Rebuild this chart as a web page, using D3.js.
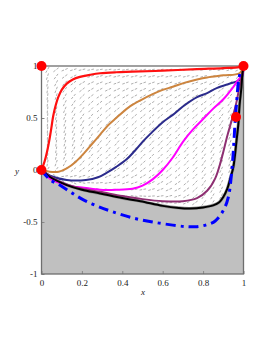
<!DOCTYPE html>
<html>
<head>
<meta charset="utf-8">
<script src="https://cdn.jsdelivr.net/npm/d3@7"></script>
<style>
  body { margin: 0; background: #fff; }
  svg text { font-family: "Liberation Serif", "DejaVu Serif", serif; font-size: 9px; fill: #222; }
</style>
</head>
<body>
<div class="phase-plot"></div>
<script>
// trajectories (x, y)
const redPath = [[0,0],[0.015,0.08],[0.028,0.18],[0.04,0.3],[0.05,0.42],[0.058,0.52],[0.07,0.62],[0.083,0.7],[0.1,0.77],[0.125,0.83],[0.155,0.87],[0.19,0.895],[0.24,0.915],[0.29,0.93],[0.37,0.94],[0.45,0.945],[0.6,0.955],[0.77,0.97],[0.9,0.98],[0.98,0.99],[1,1]];
const brownPath = [[0,0],[0.04,-0.016],[0.085,-0.016],[0.125,0.016],[0.17,0.08],[0.21,0.16],[0.25,0.25],[0.29,0.34],[0.33,0.43],[0.37,0.5],[0.43,0.6],[0.49,0.67],[0.55,0.73],[0.6,0.77],[0.65,0.8],[0.71,0.84],[0.77,0.87],[0.82,0.89],[0.9,0.91],[0.98,0.93],[1,1]];
const navyPath = [[0,0],[0.05,-0.06],[0.125,-0.096],[0.22,-0.096],[0.28,-0.07],[0.32,-0.03],[0.37,0.03],[0.42,0.1],[0.46,0.18],[0.5,0.27],[0.54,0.35],[0.6,0.46],[0.65,0.53],[0.7,0.61],[0.77,0.7],[0.82,0.74],[0.87,0.79],[0.93,0.83],[0.97,0.855],[0.99,0.88],[1,1]];
const magentaPath = [[0,0],[0.04,-0.08],[0.1,-0.13],[0.16,-0.16],[0.21,-0.17],[0.29,-0.19],[0.37,-0.19],[0.45,-0.18],[0.5,-0.15],[0.55,-0.09],[0.6,0.0],[0.65,0.12],[0.7,0.27],[0.75,0.39],[0.8,0.49],[0.85,0.59],[0.9,0.68],[0.95,0.8],[0.975,0.87],[0.995,0.92],[1,1]];
const purplePath = [[0,0],[0.05,-0.07],[0.125,-0.14],[0.2,-0.18],[0.29,-0.21],[0.4,-0.25],[0.5,-0.28],[0.6,-0.3],[0.7,-0.3],[0.77,-0.27],[0.82,-0.2],[0.86,-0.08],[0.89,0.1],[0.92,0.33],[0.945,0.5],[0.965,0.65],[0.98,0.8],[0.995,0.93],[1,1]];
const blackPath = [[0,0],[0.04,-0.065],[0.125,-0.145],[0.2,-0.19],[0.29,-0.225],[0.4,-0.27],[0.49,-0.3],[0.6,-0.345],[0.68,-0.365],[0.735,-0.37],[0.8,-0.36],[0.85,-0.34],[0.88,-0.31],[0.9,-0.26],[0.92,-0.18],[0.935,-0.08],[0.95,0.03],[0.966,0.29],[0.975,0.45],[0.98,0.61],[0.99,0.8],[0.995,0.93],[1,1]];
const bluePath = [[0,0],[0.04,-0.09],[0.09,-0.145],[0.15,-0.22],[0.21,-0.29],[0.28,-0.35],[0.35,-0.4],[0.45,-0.46],[0.55,-0.5],[0.65,-0.53],[0.72,-0.545],[0.77,-0.545],[0.82,-0.525],[0.86,-0.49],[0.9,-0.39],[0.925,-0.26],[0.94,-0.05],[0.95,0.19],[0.958,0.45],[0.966,0.65],[0.975,0.85],[0.985,0.95]];

// equilibrium points
const fixedPoints = [[0,1],[1,1],[0,0],[0.963,0.51]];

// direction field grid and angles (degrees, on screen)
const xGrid = [0.03,0.073,0.116,0.159,0.202,0.245,0.288,0.331,0.374,0.417,0.46,0.503,0.546,0.589,0.632,0.675,0.718,0.761,0.804,0.847,0.89,0.933,0.976];
const yGrid = [0.965,0.901,0.837,0.773,0.709,0.645,0.581,0.517,0.453,0.389,0.325,0.261,0.197,0.133,0.069,0.005,-0.059,-0.123,-0.187,-0.251,-0.315];
const fieldAngles = [
  [60,38,23,17,13,11,9,8,8,8,8,8,8,8,8,8,8,8,9,10,12,17,27],
  [72,53,37,27,23,18,16,15,14,14,13,13,13,13,13,13,13,14,15,17,21,27,42],
  [77,62,47,37,31,25,22,20,20,19,19,19,19,18,18,19,19,19,21,24,29,37,52],
  [80,68,54,44,38,31,28,26,25,25,24,24,24,23,23,24,24,25,27,30,36,44,59],
  [82,72,60,50,44,37,33,31,30,29,29,29,28,28,28,29,29,29,31,36,42,50,64],
  [83,75,63,55,48,42,38,35,35,34,33,33,33,33,33,33,33,34,36,40,46,55,67],
  [84,77,67,59,53,46,42,39,39,38,37,37,37,36,36,37,37,38,40,44,51,59,70],
  [85,78,69,62,56,50,45,43,42,41,40,40,40,40,40,40,41,41,44,48,54,62,73],
  [85,80,72,64,59,53,49,46,45,45,44,44,43,43,43,44,44,45,47,51,57,64,74],
  [86,80,73,67,62,55,52,49,48,47,47,47,46,46,46,47,47,47,50,54,60,67,76],
  [86,81,74,69,64,58,54,52,51,50,49,49,49,49,49,49,50,50,52,57,62,69,77],
  [86,81,74,68,63,57,53,51,50,49,48,48,48,48,48,49,49,50,52,56,62,69,77],
  [85,80,72,65,60,55,51,50,49,48,47,48,48,48,48,49,50,51,54,59,64,70,78],
  [84,77,68,61,56,50,47,46,46,45,45,45,46,46,46,48,50,51,55,59,64,70,78],
  [80,70,62,53,49,44,42,41,41,41,41,42,43,43,44,46,48,50,55,59,64,70,78],
  [58,52,46,39,37,34,33,34,34,35,36,37,38,39,41,42,46,49,55,59,64,70,78],
  [-69,-28,9,12,17,19,21,23,26,27,28,30,33,35,37,39,43,48,55,59,64,70,78],
  [-82,-68,-39,-25,-11,-1,5,9,13,17,19,23,25,29,31,34,40,46,55,59,64,70,78],
  [-86,-78,-63,-50,-37,-24,-15,-7,-2,3,7,11,16,21,24,27,35,43,54,59,64,70,78],
  [-87,-82,-73,-64,-54,-42,-32,-25,-18,-12,-7,-3,4,9,14,19,29,40,53,58,63,69,77],
  [-88,-85,-78,-72,-64,-55,-45,-37,-33,-27,-22,-17,-10,-3,3,9,22,36,52,57,62,68,77]
];

const xTicks = [0, 0.2, 0.4, 0.6, 0.8, 1];
const yTicks = [-1, -0.5, 0, 0.5, 1];

const width = 273, height = 353;
const svg = d3.select(".phase-plot")
    .append("svg")
    .attr("width", width)
    .attr("height", height);

const x = d3.scaleLinear().domain([0, 1]).range([41.5, 243.5]);
const y = d3.scaleLinear().domain([-1, 1]).range([274, 66]);

// direction field
const field = svg.append("g");
yGrid.forEach((yv, j) => {
    xGrid.forEach((xv, i) => {
        const a = fieldAngles[j][i] * Math.PI / 180;
        const half = 3.6;
        const cx = x(xv), cy = y(yv);
        field.append("line")
            .attr("x1", cx - half * Math.cos(a))
            .attr("y1", cy + half * Math.sin(a))
            .attr("x2", cx + half * Math.cos(a))
            .attr("y2", cy - half * Math.sin(a))
            .attr("stroke", "#a6a6a6")
            .attr("stroke-width", 0.9)
            .attr("stroke-dasharray", "2.6,1.4");
    });
});

const line = d3.line()
    .x(d => x(d[0]))
    .y(d => y(d[1]))
    .curve(d3.curveCatmullRom.alpha(0.5));

// shaded region below / right of the separatrix
svg.append("path")
    .attr("d", line(blackPath) + "L" + x(1) + "," + y(-1) + "L" + x(0) + "," + y(-1) + "Z")
    .attr("fill", "#c0c0c0");

// frame and axes
const xAxis = d3.axisBottom(x).tickValues(xTicks).tickSize(-3).tickPadding(6)
    .tickFormat(d => d === 0 || d === 1 ? String(d) : d.toFixed(1));
const yAxis = d3.axisLeft(y).tickValues(yTicks).tickSize(-3).tickPadding(4)
    .tickFormat(d => String(d));

svg.append("g").attr("transform", "translate(0," + y(-1) + ")").call(xAxis)
    .call(g => g.select(".domain").remove())
    .call(g => g.selectAll(".tick line").attr("stroke", "#888"));
svg.append("g").attr("transform", "translate(" + x(0) + ",0)").call(yAxis)
    .call(g => g.select(".domain").remove())
    .call(g => g.selectAll(".tick line").attr("stroke", "#888"));

svg.selectAll(".tick text").style("font-family", "Liberation Serif").style("font-size", "9px").attr("fill", "#222");

svg.append("rect")
    .attr("x", x(0)).attr("y", y(1))
    .attr("width", x(1) - x(0)).attr("height", y(-1) - y(1))
    .attr("fill", "none").attr("stroke", "#6e6e6e").attr("stroke-width", 1.3);

svg.append("text").attr("x", 143).attr("y", 295).attr("text-anchor", "middle")
    .style("font-style", "italic").text("x");
svg.append("text").attr("x", 17).attr("y", 174).attr("text-anchor", "middle")
    .style("font-style", "italic").text("y");

// trajectories
const curves = [
    {pts: redPath, color: "#ff1010", w: 2.2},
    {pts: brownPath, color: "#cd853f", w: 2},
    {pts: navyPath, color: "#2b2b8c", w: 2},
    {pts: magentaPath, color: "#ff00ff", w: 2},
    {pts: purplePath, color: "#8e2f72", w: 2}
];

svg.append("path").attr("d", line(blackPath))
    .attr("fill", "none").attr("stroke", "#999").attr("stroke-width", 3.2);
curves.forEach(c => {
    svg.append("path").attr("d", line(c.pts))
        .attr("fill", "none").attr("stroke", c.color).attr("stroke-width", c.w);
});
svg.append("path").attr("d", line(blackPath))
    .attr("fill", "none").attr("stroke", "#000").attr("stroke-width", 2);
svg.append("path").attr("d", line(bluePath))
    .attr("fill", "none").attr("stroke", "#0000ff").attr("stroke-width", 3)
    .attr("stroke-dasharray", "10,5,3,5");

svg.selectAll("circle.fp")
    .data(fixedPoints)
    .join("circle")
    .attr("class", "fp")
    .attr("cx", d => x(d[0]))
    .attr("cy", d => y(d[1]))
    .attr("r", 5)
    .attr("fill", "#ff0000");
</script>
</body>
</html>
